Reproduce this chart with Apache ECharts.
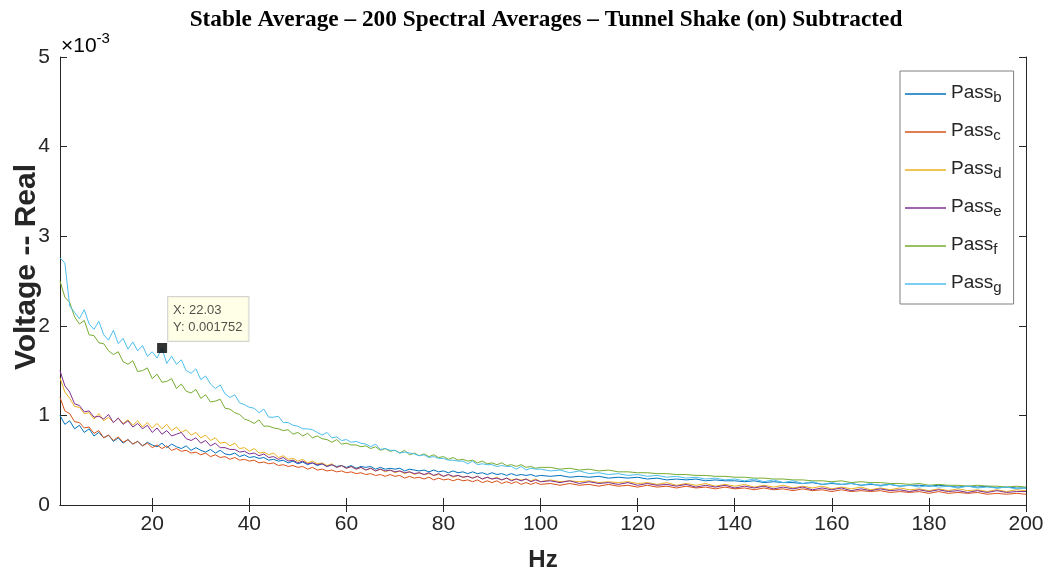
<!DOCTYPE html>
<html>
<head>
<meta charset="utf-8">
<script src="https://cdn.jsdelivr.net/npm/echarts@6/dist/echarts.min.js"></script>
<style>html,body{margin:0;padding:0;background:#fff;}#c{width:1051px;height:577px;}</style>
</head>
<body>
<div id="c"></div>
<script>
// frequency samples (Hz)
const hz = [1,2,3,4,5,6,7,8,9,10,11,12,13,14,15,16,17,18,19,20,21,22,23,24,25,26,27,28,29,30,
31,32,33,34,35,36,37,38,39,40,41,42,43,44,45,46,47,48,49,50,51,52,53,54,55,56,57,58,59,60,
61,62,63,64,65,66,67,68,69,70,71,72,73,74,75,76,77,78,79,80,81,82,83,84,85,86,87,88,89,90,
91,92,93,94,95,96,97,98,99,100,102,104,106,108,110,112,114,116,118,120,122,124,126,128,130,
132,134,136,138,140,142,144,146,148,150,152,154,156,158,160,162,164,166,168,170,172,174,176,178,180,
182,184,186,188,190,192,194,196,198,200];

// values in units of 1e-3 V
const passB = [1.00,0.90,0.94,0.85,0.89,0.81,0.85,0.77,0.81,0.75,0.78,0.71,0.75,0.69,0.73,0.68,0.71,0.66,0.70,0.67,
0.65,0.69,0.64,0.68,0.65,0.63,0.66,0.61,0.64,0.61,0.59,0.62,0.58,0.61,0.57,0.56,0.58,0.54,0.56,0.53,
0.54,0.52,0.53,0.50,0.51,0.49,0.50,0.47,0.49,0.46,0.48,0.45,0.47,0.44,0.46,0.43,0.45,0.43,0.44,0.42,
0.44,0.41,0.43,0.42,0.43,0.40,0.42,0.40,0.41,0.40,0.41,0.38,0.40,0.39,0.38,0.39,0.37,0.39,0.37,0.38,
0.36,0.38,0.36,0.37,0.35,0.37,0.35,0.36,0.34,0.36,0.34,0.35,0.33,0.35,0.33,0.34,0.33,0.34,0.32,0.33,
0.32,0.33,0.31,0.32,0.31,0.32,0.30,0.31,0.30,0.31,0.29,0.30,0.28,0.29,0.28,0.29,0.27,0.28,0.27,0.27,
0.26,0.27,0.25,0.26,0.25,0.25,0.24,0.25,0.23,0.24,0.23,0.24,0.22,0.23,0.22,0.23,0.21,0.22,0.22,0.21,
0.22,0.21,0.20,0.21,0.20,0.21,0.19,0.20,0.19,0.19];
const passC = [1.20,1.05,1.02,0.93,0.92,0.86,0.87,0.80,0.83,0.75,0.78,0.72,0.76,0.70,0.73,0.68,0.71,0.66,0.69,0.64,
0.67,0.63,0.66,0.61,0.63,0.60,0.61,0.58,0.59,0.56,0.58,0.54,0.56,0.53,0.54,0.51,0.53,0.50,0.51,0.49,
0.50,0.47,0.48,0.46,0.47,0.44,0.45,0.43,0.44,0.42,0.43,0.40,0.42,0.39,0.40,0.38,0.39,0.37,0.38,0.36,
0.37,0.35,0.36,0.34,0.35,0.33,0.34,0.32,0.34,0.32,0.33,0.30,0.32,0.30,0.31,0.29,0.31,0.28,0.30,0.28,
0.29,0.27,0.29,0.27,0.28,0.26,0.28,0.25,0.27,0.25,0.27,0.24,0.26,0.24,0.26,0.23,0.25,0.23,0.25,0.23,
0.24,0.22,0.24,0.22,0.23,0.21,0.23,0.21,0.22,0.20,0.22,0.20,0.21,0.19,0.21,0.19,0.20,0.18,0.20,0.18,
0.19,0.17,0.19,0.17,0.18,0.16,0.18,0.16,0.17,0.15,0.17,0.15,0.16,0.15,0.16,0.14,0.15,0.14,0.15,0.13,
0.15,0.13,0.14,0.13,0.14,0.12,0.13,0.12,0.13,0.12];
const passD = [1.42,1.26,1.19,1.10,1.09,1.02,1.03,0.96,1.02,0.94,0.98,0.92,0.97,0.91,0.95,0.89,0.94,0.87,0.92,0.86,
0.91,0.85,0.90,0.83,0.87,0.81,0.84,0.78,0.81,0.75,0.78,0.72,0.75,0.69,0.70,0.66,0.69,0.63,0.64,0.60,
0.63,0.58,0.59,0.56,0.58,0.53,0.55,0.51,0.52,0.49,0.51,0.47,0.49,0.46,0.47,0.44,0.46,0.42,0.44,0.41,
0.43,0.40,0.42,0.39,0.41,0.38,0.40,0.37,0.39,0.36,0.38,0.35,0.37,0.34,0.36,0.34,0.35,0.33,0.34,0.32,
0.34,0.31,0.33,0.31,0.32,0.30,0.32,0.29,0.31,0.29,0.31,0.28,0.30,0.28,0.29,0.28,0.29,0.27,0.29,0.26,
0.28,0.26,0.27,0.26,0.27,0.25,0.26,0.25,0.26,0.24,0.25,0.23,0.25,0.22,0.24,0.22,0.24,0.21,0.23,0.21,
0.23,0.20,0.22,0.20,0.22,0.19,0.21,0.19,0.21,0.18,0.20,0.18,0.20,0.17,0.19,0.17,0.19,0.17,0.18,0.16,
0.18,0.16,0.18,0.16,0.17,0.15,0.17,0.15,0.17,0.16];
const passE = [1.50,1.33,1.26,1.13,1.11,1.04,1.05,0.98,0.99,0.96,1.01,0.92,0.97,0.90,0.94,0.87,0.91,0.85,0.89,0.81,
0.86,0.79,0.83,0.77,0.79,0.81,0.74,0.72,0.75,0.69,0.72,0.66,0.69,0.64,0.64,0.62,0.62,0.59,0.60,0.57,
0.58,0.55,0.57,0.53,0.54,0.51,0.53,0.49,0.50,0.47,0.49,0.46,0.47,0.45,0.46,0.43,0.45,0.42,0.44,0.41,
0.43,0.40,0.42,0.39,0.41,0.38,0.40,0.38,0.39,0.37,0.38,0.36,0.37,0.35,0.36,0.34,0.36,0.33,0.35,0.32,
0.34,0.32,0.33,0.31,0.32,0.30,0.32,0.29,0.31,0.29,0.30,0.28,0.30,0.27,0.29,0.27,0.29,0.26,0.28,0.26,
0.27,0.25,0.27,0.24,0.26,0.24,0.25,0.23,0.25,0.22,0.24,0.22,0.23,0.21,0.23,0.20,0.22,0.20,0.22,0.19,
0.21,0.19,0.21,0.18,0.20,0.18,0.20,0.17,0.19,0.17,0.19,0.16,0.18,0.16,0.18,0.16,0.17,0.15,0.17,0.15,
0.17,0.15,0.16,0.14,0.16,0.14,0.16,0.14,0.15,0.15];
const passF = [2.50,2.32,2.26,2.10,2.02,2.06,1.90,1.89,1.81,1.80,1.72,1.68,1.71,1.60,1.57,1.61,1.49,1.50,1.53,1.41,
1.46,1.37,1.38,1.41,1.30,1.35,1.27,1.25,1.29,1.19,1.23,1.15,1.16,1.18,1.08,1.07,1.03,1.01,0.96,0.94,
0.91,0.95,0.88,0.88,0.86,0.85,0.83,0.84,0.79,0.81,0.77,0.80,0.75,0.77,0.74,0.73,0.70,0.73,0.68,0.69,
0.67,0.67,0.65,0.66,0.63,0.65,0.61,0.63,0.60,0.61,0.58,0.61,0.56,0.58,0.55,0.57,0.54,0.56,0.53,0.54,
0.51,0.53,0.50,0.51,0.49,0.50,0.47,0.49,0.46,0.47,0.45,0.47,0.44,0.45,0.43,0.45,0.42,0.43,0.41,0.42,
0.42,0.40,0.41,0.39,0.40,0.38,0.39,0.37,0.37,0.36,0.36,0.35,0.35,0.34,0.34,0.33,0.33,0.32,0.32,0.31,
0.31,0.30,0.30,0.29,0.29,0.28,0.28,0.27,0.27,0.26,0.27,0.25,0.26,0.25,0.25,0.24,0.24,0.23,0.24,0.22,
0.23,0.22,0.22,0.21,0.22,0.21,0.21,0.20,0.21,0.20];
const passG = [2.76,2.70,2.22,2.15,2.08,2.18,2.02,1.96,2.05,1.90,1.84,1.95,1.80,1.86,1.74,1.82,1.72,1.78,1.66,1.71,
1.64,1.75,1.58,1.66,1.57,1.62,1.50,1.47,1.52,1.40,1.44,1.35,1.30,1.34,1.24,1.20,1.23,1.14,1.12,1.09,
1.08,1.03,1.07,0.98,0.98,0.99,0.92,0.92,0.89,0.88,0.85,0.85,0.84,0.81,0.78,0.81,0.75,0.76,0.72,0.73,
0.70,0.71,0.69,0.68,0.65,0.68,0.62,0.63,0.61,0.61,0.58,0.59,0.58,0.57,0.55,0.56,0.53,0.54,0.52,0.52,
0.50,0.50,0.49,0.49,0.46,0.49,0.45,0.46,0.45,0.45,0.43,0.44,0.43,0.43,0.40,0.43,0.39,0.41,0.40,0.40,
0.38,0.39,0.36,0.38,0.35,0.36,0.34,0.35,0.33,0.34,0.32,0.33,0.31,0.32,0.30,0.31,0.29,0.30,0.28,0.29,
0.27,0.29,0.26,0.28,0.25,0.27,0.24,0.26,0.23,0.25,0.23,0.24,0.22,0.24,0.21,0.23,0.21,0.22,0.20,0.22,
0.20,0.21,0.19,0.21,0.19,0.20,0.19,0.20,0.18,0.19];

const seriesNames = ['Pass_b','Pass_c','Pass_d','Pass_e','Pass_f','Pass_g'];
const seriesData = [passB, passC, passD, passE, passF, passG];
const colors = ['#0072BD','#D95319','#EDB120','#7E2F8E','#77AC30','#4DBEEE'];
const xTicks = [20,40,60,80,100,120,140,160,180,200];
const yTicks = [0,1,2,3,4,5];
const tipX = 22.03, tipY = 1.752;

const chart = echarts.init(document.getElementById('c'));
const axisCol = '#262626';
const FONT = 'Liberation Sans, Arial, sans-serif';
const series = seriesNames.map((n, i) => ({
  name: n, type: 'line', xAxisIndex: 0, yAxisIndex: 0,
  showSymbol: false, symbol: 'none',
  lineStyle: { width: 1, color: colors[i] }, itemStyle: { color: colors[i] },
  data: hz.map((x, k) => [x, seriesData[i][k]]),
  z: 2 + i
}));
series.push({
  name: 'datatip', type: 'scatter', xAxisIndex: 0, yAxisIndex: 0,
  symbol: 'rect', symbolSize: 10, z: 20,
  itemStyle: { color: '#000' },
  data: [[tipX, tipY]],
  label: {
    show: true, position: [11, -46], align: 'left', verticalAlign: 'top',
    formatter: 'X: 22.03\nY: 0.001752',
    fontFamily: FONT, fontSize: 13, color: '#262626', lineHeight: 17,
    backgroundColor: '#FFFFE1', borderColor: '#C8C8C8', borderWidth: 1, padding: [5, 6, 5, 5]
  }
});

chart.setOption({
  animation: false,
  backgroundColor: '#fff',
  title: {
    text: 'Stable Average \u2013 200 Spectral Averages \u2013 Tunnel Shake (on) Subtracted',
    left: 541, textAlign: 'center', top: 3,
    textStyle: { fontFamily: 'Liberation Serif, Times New Roman, serif', fontWeight: 'bold', fontSize: 23.3, color: '#000' }
  },
  grid: { left: 60, right: 25, top: 57, bottom: 69, containLabel: false },
  legend: {
    orient: 'vertical', left: 900, top: 71,
    itemWidth: 41, itemHeight: 1.5, itemGap: 9, icon: 'rect',
    padding: [5, 12, 9, 5],
    backgroundColor: '#fff', borderColor: '#808080', borderWidth: 1,
    data: seriesNames,
    formatter: n => '{p|Pass}{s|' + n.split('_')[1] + '}',
    textStyle: {
      color: '#262626', fontFamily: FONT,
      rich: {
        p: { fontSize: 19, lineHeight: 22, verticalAlign: 'top', color: '#262626', fontFamily: FONT },
        s: { fontSize: 15, lineHeight: 15, padding: [14, 0, 0, 0], verticalAlign: 'bottom', color: '#262626', fontFamily: FONT }
      }
    }
  },
  xAxis: [{
    type: 'value', min: 1, max: 200, position: 'bottom',
    name: 'Hz', nameLocation: 'middle', nameGap: 43,
    nameTextStyle: { fontFamily: FONT, fontWeight: 'bold', fontSize: 24, color: axisCol },
    axisLine: { show: true, lineStyle: { color: axisCol, width: 1 } },
    axisTick: { show: true, inside: true, length: 7, customValues: xTicks, lineStyle: { color: axisCol } },
    axisLabel: { show: true, customValues: xTicks, margin: 9, fontSize: 21, color: axisCol, fontFamily: FONT },
    splitLine: { show: false }
  }, {
    type: 'value', min: 1, max: 200, position: 'top',
    axisLine: { show: true, lineStyle: { color: axisCol, width: 1 } },
    axisTick: { show: true, inside: true, length: 7, customValues: xTicks, lineStyle: { color: axisCol } },
    axisLabel: { show: false }, splitLine: { show: false }
  }],
  yAxis: [{
    type: 'value', min: 0, max: 5, interval: 1, position: 'left',
    axisLine: { show: true, lineStyle: { color: axisCol, width: 1 } },
    axisTick: { show: true, inside: true, length: 7, lineStyle: { color: axisCol } },
    axisLabel: { show: true, margin: 10, fontSize: 21, color: axisCol, fontFamily: FONT,
      formatter: v => yTicks.includes(v) ? String(v) : '' },
    splitLine: { show: false }
  }, {
    type: 'value', min: 0, max: 5, interval: 1, position: 'right',
    axisLine: { show: true, lineStyle: { color: axisCol, width: 1 } },
    axisTick: { show: true, inside: true, length: 7, lineStyle: { color: axisCol } },
    axisLabel: { show: false }, splitLine: { show: false }
  }],
  graphic: [{
    type: 'text', x: 61, y: 31,
    style: {
      text: '{a|\u00d710}{b|-3}',
      rich: {
        a: { fontSize: 21, color: axisCol, fontFamily: FONT, verticalAlign: 'bottom', lineHeight: 26 },
        b: { fontSize: 15, color: axisCol, fontFamily: FONT, verticalAlign: 'top', lineHeight: 15 }
      }
    }
  }, {
    type: 'text', x: 27, y: 267, rotation: Math.PI / 2,
    style: {
      text: 'Voltage -- Real', align: 'center', verticalAlign: 'middle',
      fontFamily: FONT, fontWeight: 'bold', fontSize: 30, fill: axisCol
    }
  }],
  series: series
});
</script>
</body>
</html>
